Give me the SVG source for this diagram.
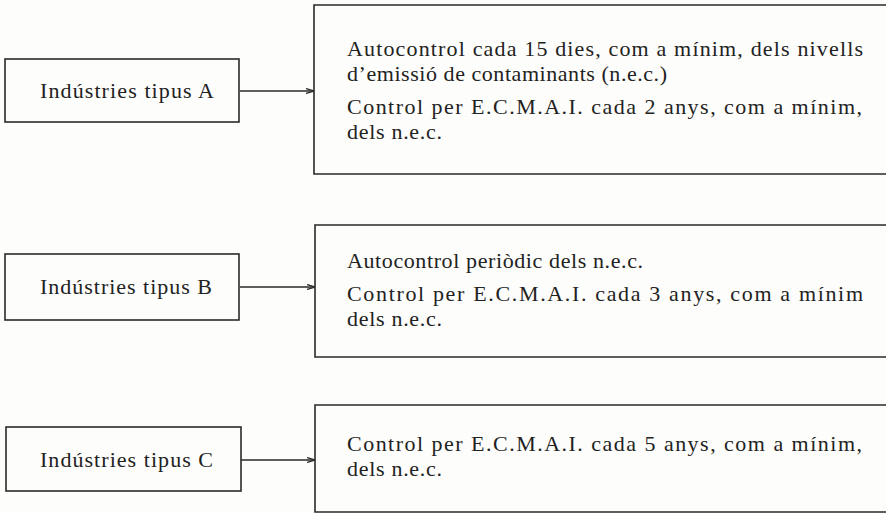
<svg xmlns="http://www.w3.org/2000/svg" width="886" height="513" viewBox="0 0 886 513">
<style>
.box{fill:none;stroke:#2a2a2a;stroke-width:1.6}
.t{font-family:"Liberation Serif","Times New Roman",serif;font-size:22px;fill:#222}
.c{stroke:#2a2a2a;stroke-width:1.4;fill:none}
</style>
<defs>
<marker id="ah" markerWidth="8" markerHeight="6" refX="8" refY="3" orient="auto" markerUnits="userSpaceOnUse">
<path d="M0,0.5 L8,3 L0,5.5" fill="none" stroke="#2a2a2a" stroke-width="1.2"/>
</marker>
</defs>
<rect width="886" height="513" fill="#fdfdfb"/>
<g id="nodeA">
<rect class="box" x="5" y="59" width="234" height="63"/>
<text class="t" x="40" y="98" textLength="174" lengthAdjust="spacing">Indústries tipus A</text>
</g>
<g id="boxA">
<path class="box" d="M886,5 H314 V174 H886"/>
<text class="t" x="347" y="56" textLength="516" lengthAdjust="spacing">Autocontrol cada 15 dies, com a mínim, dels nivells</text>
<text class="t" x="347" y="81" textLength="320" lengthAdjust="spacing">d’emissió de contaminants (n.e.c.)</text>
<text class="t" x="347" y="114" textLength="515" lengthAdjust="spacing">Control per E.C.M.A.I. cada 2 anys, com a mínim,</text>
<text class="t" x="347" y="139" textLength="95" lengthAdjust="spacing">dels n.e.c.</text>
</g>
<g id="nodeB">
<rect class="box" x="5" y="254" width="234" height="66"/>
<text class="t" x="40" y="294" textLength="172" lengthAdjust="spacing">Indústries tipus B</text>
</g>
<g id="boxB">
<path class="box" d="M886,225 H315 V357 H886"/>
<text class="t" x="347" y="268" textLength="296" lengthAdjust="spacing">Autocontrol periòdic dels n.e.c.</text>
<text class="t" x="347" y="301" textLength="516" lengthAdjust="spacing">Control per E.C.M.A.I. cada 3 anys, com a mínim</text>
<text class="t" x="347" y="326" textLength="95" lengthAdjust="spacing">dels n.e.c.</text>
</g>
<g id="nodeC">
<rect class="box" x="6" y="427" width="235" height="64"/>
<text class="t" x="40" y="467" textLength="173" lengthAdjust="spacing">Indústries tipus C</text>
</g>
<g id="boxC">
<path class="box" d="M886,405 H315 V512 H886"/>
<text class="t" x="347" y="451" textLength="515" lengthAdjust="spacing">Control per E.C.M.A.I. cada 5 anys, com a mínim,</text>
<text class="t" x="347" y="476" textLength="95" lengthAdjust="spacing">dels n.e.c.</text>
</g>
<g id="connectors">
<line class="c" x1="240" y1="91" x2="314" y2="91" marker-end="url(#ah)"/>
<line class="c" x1="240" y1="287" x2="315" y2="287" marker-end="url(#ah)"/>
<line class="c" x1="241" y1="460" x2="315" y2="460" marker-end="url(#ah)"/>
</g>
</svg>
